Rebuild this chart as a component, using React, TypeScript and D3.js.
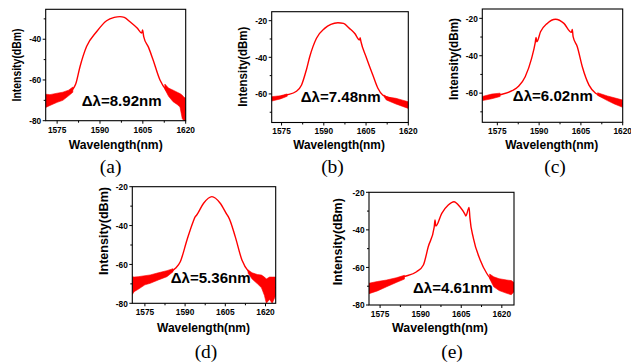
import React from "react";
import * as d3 from "d3";

type Pt = [number, number];
type Bd = [number, number, number];

// ---- tick values / labels ----
const xTickValues = [1575, 1590, 1605, 1620];
const xMinorValues = [1582.5, 1597.5, 1612.5];
const yTickValues = [-80, -60, -40, -20];
const yMinorValues = [-70, -50, -30];
const xTitleText = "Wavelength(nm)";
const yTitleText = "Intensity(dBm)";
const deltaLabels = ["Δλ=8.92nm", "Δλ=7.48nm", "Δλ=6.02nm", "Δλ=5.36nm", "Δλ=4.61nm"];
const captions = ["(a)", "(b)", "(c)", "(d)", "(e)"];

// ---- spectra: main trace [wavelength nm, dBm] ----
const aLine: Pt[] = [
  [1571, -70.5], [1574, -69.3], [1577, -68], [1579, -66.3], [1580.5, -64.5], [1581.5, -62],
  [1583, -53.5], [1585.3, -43.6], [1588.8, -36.3], [1592.3, -30.9], [1595, -29.3], [1597, -28.9],
  [1598.5, -29.3], [1600.5, -31.4], [1603, -34.5], [1604.6, -37], [1604.9, -35.5], [1605.3, -38.7],
  [1607, -44], [1608.6, -50.2], [1611, -60], [1613.3, -65.2], [1616, -68], [1618, -70],
  [1619.5, -73], [1620, -75],
];
const bLine: Pt[] = [
  [1571.5, -62.6], [1574, -61.6], [1576.8, -60.6], [1580.3, -58.5], [1582.1, -55.1], [1583.8, -46.9],
  [1585, -39.7], [1587.4, -29.6], [1590.3, -24.2], [1592.5, -22], [1595, -21.1], [1597, -21.5],
  [1599.1, -24.2], [1601, -27], [1602.7, -30.5], [1602.9, -29.3], [1603.2, -31.5], [1605, -39.7],
  [1607.4, -49.7], [1609.2, -56.9], [1610.9, -60.6], [1613, -62], [1615.6, -63.6], [1618, -64.8],
  [1620, -66],
];
const cLine: Pt[] = [
  [1569.6, -62.8], [1575.6, -61], [1580.3, -58.7], [1582.7, -56.2], [1585, -51.2], [1587.3, -41.4],
  [1588.6, -33], [1588.9, -30.2], [1589.2, -32.5], [1590.5, -27.2], [1592.9, -22.7], [1595.9, -20.5],
  [1598.9, -22.7], [1601.6, -27.5], [1601.9, -26], [1602.2, -29.8], [1603.7, -35.2], [1605.5, -45.9],
  [1607.9, -55.7], [1610.3, -60.1], [1614.5, -62.8], [1617, -64.5], [1620, -66],
];
const dLine: Pt[] = [
  [1570.3, -69.5], [1577, -67.5], [1583.2, -64.8], [1586.4, -62], [1588.2, -58.6], [1590.7, -47.4],
  [1593, -38], [1593.8, -35.4], [1594.2, -34.8], [1596.9, -28.5], [1600, -25.1], [1603.1, -28.5],
  [1605.8, -34.8], [1606.2, -35.6], [1608.7, -45.7], [1611.2, -57.7], [1613.7, -63.7], [1616, -66],
  [1618.1, -68.5], [1620.6, -71], [1623.8, -72],
];
const eLine: Pt[] = [
  [1570.9, -71], [1577.4, -68.5], [1583.6, -65], [1588.5, -62.3], [1591, -58.7], [1592.8, -49],
  [1595, -38.5], [1595.3, -34.7], [1595.6, -38], [1597.8, -31.2], [1600.2, -26.8], [1602.3, -25],
  [1604.5, -27.7], [1606.3, -31.5], [1606.7, -32.6], [1607.9, -28], [1608.2, -33.5], [1609.5, -44.5],
  [1612, -56], [1614.4, -63.1], [1616.9, -67.5], [1621.8, -70], [1624.5, -71],
];

// ---- noise bands [wavelength nm, low dBm, high dBm] ----
const aBandL: Bd[] = [
  [1571, -73.5, -67], [1572.5, -72.5, -67.2], [1575, -71, -66.5], [1577, -70, -66], [1579, -67.8, -65], [1580.5, -66, -63.5],
];
const aBandR: Bd[] = [
  [1612.7, -64.5, -62], [1614, -68, -64], [1615.6, -70.7, -65], [1617, -72, -66], [1618, -73.3, -66.7],
  [1618.8, -79, -67.5], [1619.4, -80, -68.5], [1620, -80, -69],
];
const bBandL: Bd[] = [
  [1571.5, -63.9, -61.5], [1574.6, -62.7, -61], [1577, -61.3, -60],
];
const bBandR: Bd[] = [
  [1611.5, -61.8, -60.5], [1612.2, -63.3, -61.6], [1615.6, -65.5, -62.4], [1618, -66.8, -63.4], [1620, -67.9, -64.3],
];
const cBandL: Bd[] = [
  [1569.6, -64, -61.8], [1573, -63, -60.5], [1576, -61.8, -60],
];
const cBandR: Bd[] = [
  [1611, -61.2, -59.8], [1614.5, -64, -61.5], [1617, -65.8, -62.5], [1620, -67.6, -63.7],
];
const dBandL: Bd[] = [
  [1570.3, -75.5, -66.3], [1571, -74, -66.5], [1572.5, -72.8, -66.3], [1575, -70.5, -65.8], [1577, -69.7, -65.4],
  [1580, -68, -64.3], [1583.2, -66.3, -63.2], [1585.5, -63.8, -62.2],
];
const dBandR: Bd[] = [
  [1613.5, -64.5, -62.8], [1615, -67.5, -64.3], [1617, -70, -65.2], [1618.5, -72, -65.5], [1619.6, -76, -66.5],
  [1620.3, -80, -67.5], [1621.5, -78, -66.5], [1622.5, -80, -66.5], [1623.8, -76, -66.5],
];
const eBandL: Bd[] = [
  [1570.9, -74, -68.4], [1574, -72.5, -67.5], [1577.4, -70.3, -66.7], [1581, -68, -65.5], [1584, -66.2, -64.2],
];
const eBandR: Bd[] = [
  [1615.5, -66, -63.5], [1617, -70.3, -65], [1619, -72.3, -66], [1621.8, -73.8, -66.7], [1623.5, -74.5, -67], [1624.5, -73, -68],
];

// ---- panel layout ----
const panels = [
  { line: aLine, bands: [aBandL, aBandR], xDomain: [1571, 1620], yDomain: [-80, -25.3],
    box: { l: 45.7, r: 185.7, t: 9.3, b: 120.7 }, xTitle: [115.7, 149], xTitleW: 94,
    yTitle: [16.7, 65], yTitleW: 73, dl: [121.7, 106], cap: [110.7, 173] },
  { line: bLine, bands: [bBandL, bBandR], xDomain: [1571.5, 1620], yDomain: [-75.6, -15.1],
    box: { l: 271.7, r: 408.3, t: 11.7, b: 122.5 }, xTitle: [339, 149], xTitleW: 91.7,
    yTitle: [242.5, 66.7], yTitleW: 80, dl: [340.7, 101.7], cap: [332.5, 173] },
  { line: cLine, bands: [cBandL, cBandR], xDomain: [1569.6, 1620], yDomain: [-75.6, -15],
    box: { l: 482.3, r: 622.7, t: 9, b: 122.3 }, xTitle: [551.7, 149], xTitleW: 93,
    yTitle: [454, 59], yTitleW: 82, dl: [552.8, 101], cap: [555, 173] },
  { line: dLine, bands: [dBandL, dBandR], xDomain: [1570.3, 1623.8], yDomain: [-80, -20],
    box: { l: 132.3, r: 275.7, t: 186.7, b: 303.3 }, xTitle: [203.5, 331.5], xTitleW: 93,
    yTitle: [104, 231], yTitleW: 88, dl: [210.7, 283.3], cap: [206, 358] },
  { line: eLine, bands: [eBandL, eBandR], xDomain: [1570.9, 1624.5], yDomain: [-80, -20],
    box: { l: 369, r: 514, t: 192.3, b: 305 }, xTitle: [440, 331.5], xTitleW: 96,
    yTitle: [337.5, 241.7], yTitleW: 87, dl: [453, 293.3], cap: [452, 358] },
];

const SANS = "'Liberation Sans', Arial, sans-serif";
const SERIF = "'Liberation Serif', 'Times New Roman', serif";
const RED = "#ff0000";

function Panel({ p, i }: { p: (typeof panels)[number]; i: number }) {
  const { box } = p;
  const x = d3.scaleLinear().domain(p.xDomain).range([box.l, box.r]);
  const y = d3.scaleLinear().domain(p.yDomain).range([box.b, box.t]);
  const line = d3.line<Pt>().x((d) => x(d[0])).y((d) => y(d[1])).curve(d3.curveMonotoneX);
  const area = d3.area<Bd>().x((d) => x(d[0])).y0((d) => y(d[1])).y1((d) => y(d[2]));
  const inY = (v: number) => v >= p.yDomain[0] - 0.01 && v <= p.yDomain[1] + 0.01;
  const inX = (v: number) => v >= p.xDomain[0] - 0.01 && v <= p.xDomain[1] + 0.01;
  const clipId = `clip-${i}`;
  return (
    <g>
      <defs>
        <clipPath id={clipId}>
          <rect x={box.l} y={box.t} width={box.r - box.l} height={box.b - box.t} />
        </clipPath>
      </defs>
      <g clipPath={`url(#${clipId})`}>
        {p.bands.map((b, k) => (
          <path key={k} d={area(b) || ""} fill={RED} stroke={RED} strokeWidth={0.6} />
        ))}
        <path d={line(p.line) || ""} fill="none" stroke={RED} strokeWidth={1.4} strokeLinejoin="round" />
      </g>
      <rect x={box.l} y={box.t} width={box.r - box.l} height={box.b - box.t} fill="none" stroke="#000" strokeWidth={1.1} />
      {xTickValues.filter(inX).map((v) => (
        <g key={"xt" + v}>
          <line x1={x(v)} x2={x(v)} y1={box.b} y2={box.b + 3} stroke="#000" strokeWidth={1} />
          <text x={x(v)} y={box.b + 11.8} textAnchor="middle" fontFamily={SANS} fontWeight="bold" fontSize={9.3}
            textLength={18.5} lengthAdjust="spacingAndGlyphs">
            {v}
          </text>
        </g>
      ))}
      {xMinorValues.filter(inX).map((v) => (
        <line key={"xm" + v} x1={x(v)} x2={x(v)} y1={box.b} y2={box.b + 2} stroke="#000" strokeWidth={1} />
      ))}
      {yTickValues.filter(inY).map((v) => (
        <g key={"yt" + v}>
          <line x1={box.l - 3} x2={box.l} y1={y(v)} y2={y(v)} stroke="#000" strokeWidth={1} />
          <text x={box.l - 4.5} y={y(v)} dy="0.35em" textAnchor="end" fontFamily={SANS} fontWeight="bold" fontSize={9.3}
            textLength={12} lengthAdjust="spacingAndGlyphs">
            {v}
          </text>
        </g>
      ))}
      {yMinorValues.filter(inY).map((v) => (
        <line key={"ym" + v} x1={box.l - 2} x2={box.l} y1={y(v)} y2={y(v)} stroke="#000" strokeWidth={1} />
      ))}
      <text x={p.xTitle[0]} y={p.xTitle[1]} textAnchor="middle" fontFamily={SANS} fontWeight="bold" fontSize={13}
        textLength={p.xTitleW} lengthAdjust="spacingAndGlyphs">
        {xTitleText}
      </text>
      <text transform={`translate(${p.yTitle[0] + 4.2},${p.yTitle[1]}) rotate(-90)`} textAnchor="middle" fontFamily={SANS}
        fontWeight="bold" fontSize={12.2} textLength={p.yTitleW} lengthAdjust="spacingAndGlyphs">
        {yTitleText}
      </text>
      <text x={p.dl[0]} y={p.dl[1]} textAnchor="middle" fontFamily={SANS} fontWeight="bold" fontSize={15}
        textLength={80} lengthAdjust="spacingAndGlyphs">
        {deltaLabels[i]}
      </text>
      <text x={p.cap[0]} y={p.cap[1]} textAnchor="middle" fontFamily={SERIF} fontSize={19.5}>
        {captions[i]}
      </text>
    </g>
  );
}

export default function App() {
  return (
    <svg width={631} height={364} style={{ position: "absolute", left: 0, top: 0, background: "#fff" }}>
      <rect x={0} y={0} width={631} height={364} fill="#fff" />
      {panels.map((p, i) => (
        <Panel key={i} p={p} i={i} />
      ))}
    </svg>
  );
}
